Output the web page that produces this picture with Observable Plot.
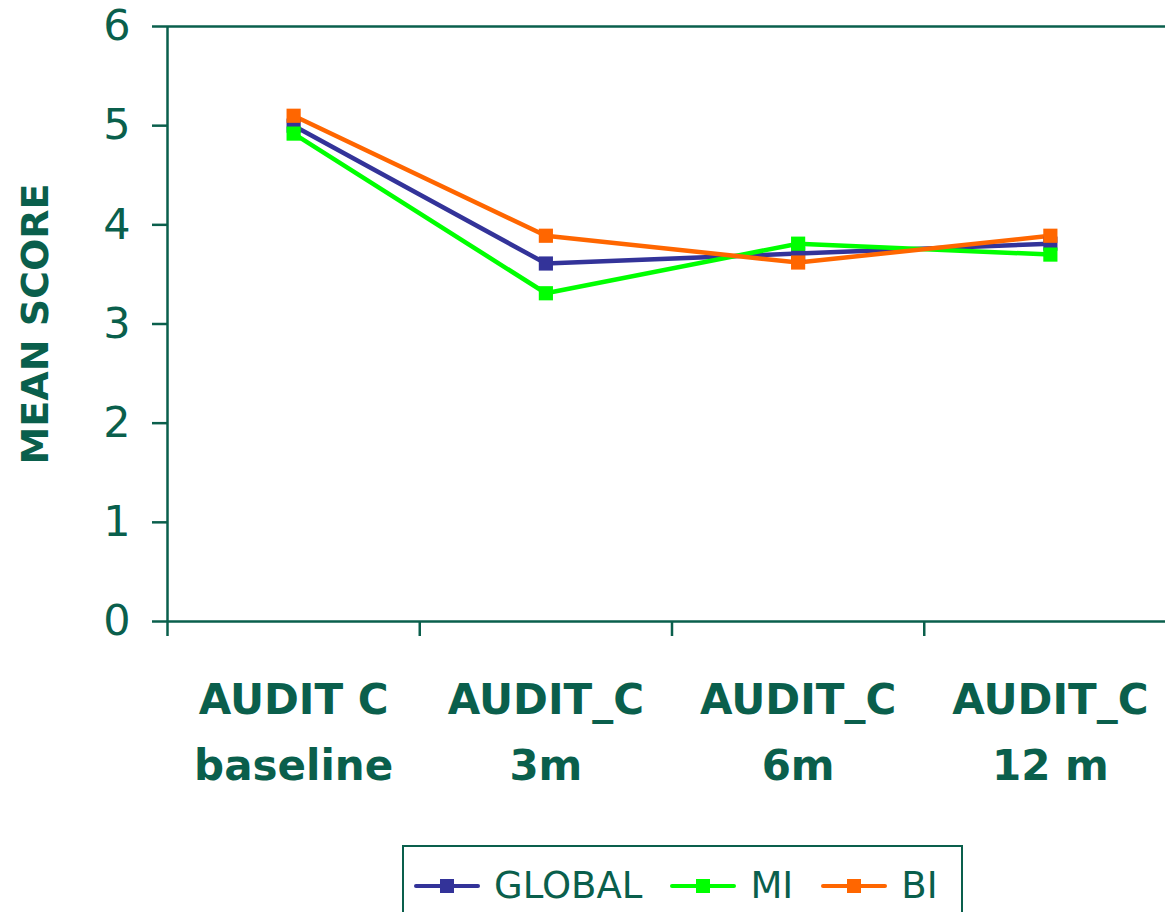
<!DOCTYPE html>
<html>
<head>
<meta charset="utf-8">
<script src="https://cdn.jsdelivr.net/npm/d3@7"></script>
<script src="https://cdn.jsdelivr.net/npm/@observablehq/plot@0.6"></script>
<style>
  html, body { margin: 0; padding: 0; background: #fff; overflow: hidden; }
  body { width: 1165px; height: 912px; position: relative; font-family: "Comic Sans MS", "DejaVu Sans", sans-serif; }
  #chart { position: absolute; left: 0; top: 0; }
  #legend {
    position: absolute; left: 402px; top: 845px; width: 561px; height: 90px;
    box-sizing: border-box; border: 2px solid #0a5f4c; background: #fff;
    display: flex; align-items: flex-start; padding-top: 17px; padding-left: 10px;
    color: #0a5f4c; font-size: 37px;
  }
  .item { display: flex; align-items: center; margin-right: 28px; }
  .item svg { margin-right: 14px; }
</style>
</head>
<body>
<div id="chart"></div>
<div id="legend"></div>
<script>
const categories = ["AUDIT C\nbaseline", "AUDIT_C\n3m", "AUDIT_C\n6m", "AUDIT_C\n12 m"];
const seriesNames = ["GLOBAL", "MI", "BI"];
const seriesColors = ["#333399", "#00ff00", "#ff6600"];
const globalValues = [5.00, 3.61, 3.71, 3.81];
const miValues = [4.92, 3.31, 3.81, 3.70];
const biValues = [5.10, 3.89, 3.62, 3.89];
const yTicks = [0, 1, 2, 3, 4, 5, 6];

const valueLists = [globalValues, miValues, biValues];
const data = [];
seriesNames.forEach((s, si) => {
  valueLists[si].forEach((v, i) => data.push({series: s, idx: i + 0.5, value: v}));
});
const boundaries = d3.range(categories.length + 1);
const centers = categories.map((c, i) => i + 0.5);

const ink = "#0a5f4c";
const font = "'Comic Sans MS', 'DejaVu Sans', sans-serif";

const chart = Plot.plot({
  width: 1165,
  height: 830,
  marginLeft: 167,
  marginTop: 26,
  marginBottom: 209,
  marginRight: 0,
  style: {fontFamily: font, color: ink, background: "transparent", overflow: "visible"},
  x: {type: "linear", domain: [0, categories.length], range: [167, 1176]},
  y: {domain: [0, 6]},
  color: {domain: seriesNames, range: seriesColors},
  marks: [
    Plot.ruleY([6], {stroke: ink, strokeWidth: 2.5}),
    Plot.ruleY([0], {stroke: ink, strokeWidth: 2.5}),
    Plot.ruleX([0], {stroke: ink, strokeWidth: 2.5}),
    Plot.axisY({ticks: yTicks, tickSize: 15, tickPadding: 22, tickFormat: d3.format("d"), fontSize: 43, label: null, stroke: ink, strokeWidth: 2.5, strokeOpacity: 1, fill: ink}),
    Plot.axisX({ticks: boundaries, tickSize: 15, tickFormat: () => "", label: null, stroke: ink, strokeWidth: 2.5, strokeOpacity: 1}),
    Plot.axisX({ticks: centers, tickSize: 0, tickPadding: 45, tickFormat: (d) => categories[Math.round(d - 0.5)], fontSize: 42, fontWeight: "bold", lineHeight: 1.58, label: null, fill: ink}),
    Plot.text(["MEAN SCORE"], {frameAnchor: "left", textAnchor: "middle", rotate: -90, dx: -132, fontSize: 38, fontWeight: "bold", fill: ink}),
    Plot.line(data, {x: "idx", y: "value", z: "series", stroke: "series", strokeWidth: 4.5}),
    Plot.dot(data, {x: "idx", y: "value", fill: "series", symbol: "square", r: 8})
  ]
});
document.getElementById("chart").appendChild(chart);

const legend = document.getElementById("legend");
seriesNames.forEach((s, i) => {
  const item = document.createElement("div");
  item.className = "item";
  item.innerHTML = `<svg width="66" height="20"><line x1="2" x2="64" y1="10" y2="10" stroke="${seriesColors[i]}" stroke-width="4" stroke-linecap="round"/><rect x="26" y="3" width="14" height="14" fill="${seriesColors[i]}"/></svg><span>${s}</span>`;
  legend.appendChild(item);
});
</script>
</body>
</html>
